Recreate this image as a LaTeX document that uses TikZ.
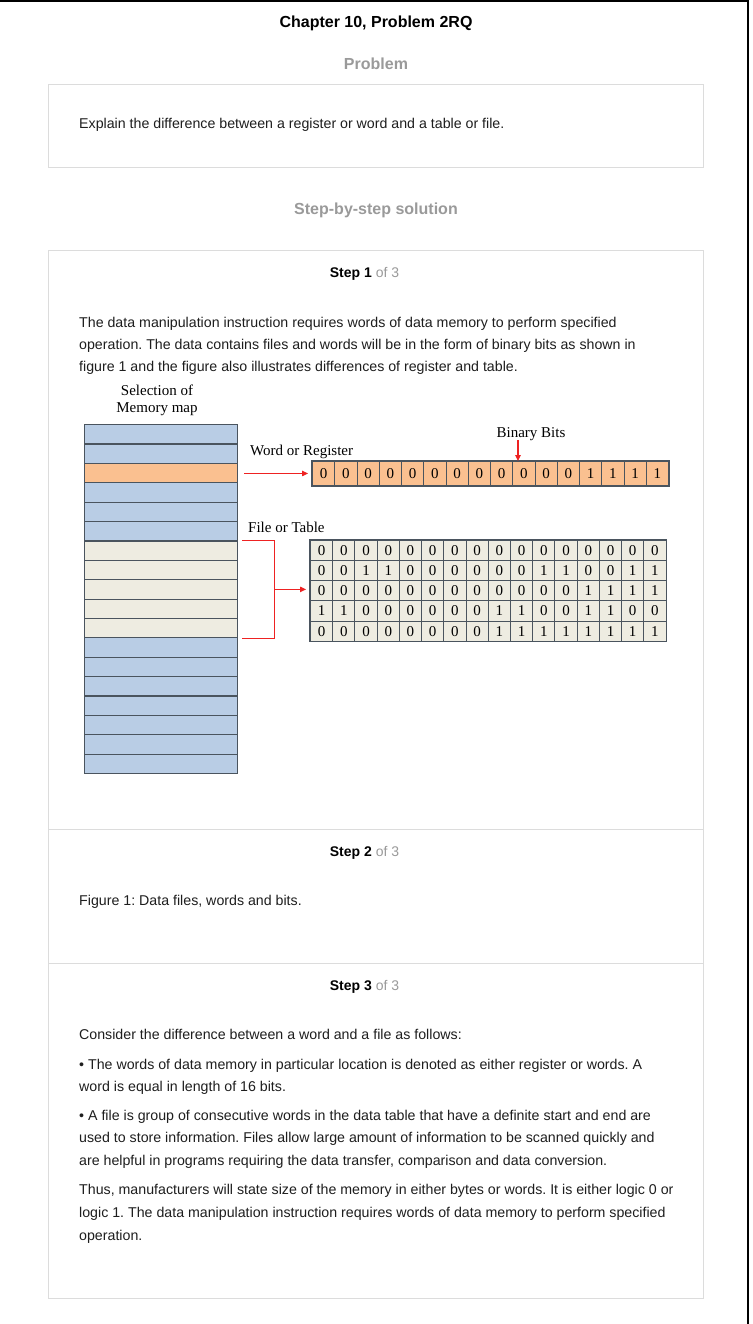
\documentclass[tikz,border=0pt]{standalone}
\usepackage{fontspec}
\setmainfont{Liberation Sans}
\newfontfamily\figserif{Liberation Serif}
\usetikzlibrary{arrows.meta,calc}
\definecolor{txt}{HTML}{1E1E1E}
\definecolor{gr}{HTML}{9A9A9A}
\definecolor{boxline}{HTML}{DCDCDC}
\definecolor{memblue}{HTML}{B9CDE5}
\definecolor{memorange}{HTML}{FAC090}
\definecolor{memcream}{HTML}{EEECE1}
\definecolor{cellline}{HTML}{4A545E}
\definecolor{arrred}{HTML}{EE2222}
\frenchspacing
\begin{document}
\begin{tikzpicture}[x=1pt,y=-1pt,
  body/.style={anchor=base west,inner sep=0pt,font=\fontsize{14.2}{16}\selectfont,text=txt},
  heading/.style={anchor=base,inner sep=0pt,font=\fontsize{16}{18}\selectfont\bfseries},
  steplbl/.style={anchor=base,inner sep=0pt,font=\fontsize{14}{16}\selectfont,text=black},
  panel/.style={draw=boxline,line width=1pt},
  figlbl/.style={inner sep=0pt,anchor=base,font=\figserif\fontsize{15}{17}\selectfont,text=black},
  memrow/.style={draw=cellline,line width=1.2pt,minimum width=153pt,minimum height=19.39pt,inner sep=0pt,anchor=north west},
  bitcell/.style={draw=cellline,line width=0.9pt,minimum width=22.25pt,inner sep=0pt,anchor=north west,font=\figserif\fontsize{15}{16}\selectfont},
  redline/.style={draw=arrred,line width=1.1pt},
  redarrow/.style={redline,-{Triangle[length=6pt,width=5.5pt]}},
]
\useasboundingbox (0,0) rectangle (752,1324);
\fill[white] (0,0) rectangle (752,1324);
\draw[line width=1.6pt] (0,0.8) -- (748.2,0.8) -- (748.2,1324);

% headings
\node[heading,text=black] (title) at (376,27.5) {Chapter 10, Problem 2RQ};
\node[heading,text=gr] (probh) at (376,69.5) {Problem};
\draw[panel] (48,85) rectangle (703,168);
\node[body] (q) at (79,128.5) {Explain the difference between a register or word and a table or file.};
\node[heading,text=gr] (solh) at (376,215) {Step-by-step solution};

% solution panel
\draw[panel] (48,251) rectangle (703,1298);
\draw[draw=boxline,line width=1pt] (48,829.3) -- (703,829.3);
\draw[draw=boxline,line width=1pt] (48,963.3) -- (703,963.3);

\node[steplbl] (s1) at (364.5,277.5) {\textbf{Step 1} {\color{gr}of 3}};
\node[body] (p1) at (79,327) {The data manipulation instruction requires words of data memory to perform specified};
\node[body] (p2) at (79,349) {operation. The data contains files and words will be in the form of binary bits as shown in};
\node[body] (p3) at (79,371) {figure 1 and the figure also illustrates differences of register and table.};

% figure: memory map
\node[figlbl] (sel1) at (157,395) {Selection of};
\node[figlbl] (sel2) at (157,412) {Memory map};
\foreach \c [count=\i from 0] in {memblue,memblue,memorange,memblue,memblue,memblue,memcream,memcream,memcream,memcream,memcream,memblue,memblue,memblue,memblue,memblue,memblue,memblue}
  \node[memrow,fill=\c] (m\i) at (84,{424+19.39*\i}) {};

% register
\node[figlbl,anchor=base west] (wlbl) at (250,455) {Word or Register};
\node[figlbl] (blbl) at (531,437) {Binary Bits};
\foreach \b [count=\i from 0] in {0,0,0,0,0,0,0,0,0,0,0,0,1,1,1,1}
  \node[bitcell,fill=memorange,minimum height=24pt] (r\i) at ({312+22.25*\i},461) {\b};
\draw[cellline,line width=1.3pt] (r0.north west) rectangle (r15.south east);

% table
\node[figlbl,anchor=base west] (flbl) at (248,532.5) {File or Table};
\foreach \row [count=\j from 0] in {{0,0,0,0,0,0,0,0,0,0,0,0,0,0,0,0},{0,0,1,1,0,0,0,0,0,0,1,1,0,0,1,1},{0,0,0,0,0,0,0,0,0,0,0,0,1,1,1,1},{1,1,0,0,0,0,0,0,1,1,0,0,1,1,0,0},{0,0,0,0,0,0,0,0,1,1,1,1,1,1,1,1}}
  \foreach \b [count=\i from 0] in \row
    \node[bitcell,fill=memcream,minimum height=20.14pt] (t\j-\i) at ({310+22.225*\i},{540+20.14*\j}) {\b};
\draw[cellline,line width=1.3pt] (t0-0.north west) rectangle (t4-15.south east);

% connectors
\draw[redarrow] ([xshift=6pt]m2.east |- r0.west) -- ([xshift=-4pt]r0.west);
\draw[redarrow] ([xshift=-13pt]blbl.south) -- ([xshift=-13pt]blbl.south |- r0.north);
\coordinate (bt) at ([xshift=4pt]m6.north east);
\coordinate (bb) at ([xshift=4pt]m10.south east);
\draw[redline] (bt) -- ([xshift=32pt]bt) -- ([xshift=32pt]bb) -- (bb);
\coordinate (bm) at ($([xshift=32pt]bt)!0.5!([xshift=32pt]bb)$);
\draw[redarrow] (bm) -- ([xshift=-4pt]t0-0.west |- bm);

% step 2
\node[steplbl] (s2) at (364.5,856.5) {\textbf{Step 2} {\color{gr}of 3}};
\node[body] (fig) at (79,905) {Figure 1: Data files, words and bits.};

% step 3
\node[steplbl] (s3) at (364.5,990) {\textbf{Step 3} {\color{gr}of 3}};
\node[body] (c1) at (79,1039) {Consider the difference between a word and a file as follows:};
\node[body] (c2) at (79,1069) {\textbullet\ The words of data memory in particular location is denoted as either register or words. A};
\node[body] (c3) at (79,1091) {word is equal in length of 16 bits.};
\node[body] (c4) at (79,1120) {\textbullet\ A file is group of consecutive words in the data table that have a definite start and end are};
\node[body] (c5) at (79,1142) {used to store information. Files allow large amount of information to be scanned quickly and};
\node[body] (c6) at (79,1165) {are helpful in programs requiring the data transfer, comparison and data conversion.};
\node[body] (c7) at (79,1194) {Thus, manufacturers will state size of the memory in either bytes or words. It is either logic 0 or};
\node[body] (c8) at (79,1217) {logic 1. The data manipulation instruction requires words of data memory to perform specified};
\node[body] (c9) at (79,1240) {operation.};
\end{tikzpicture}
\end{document}
